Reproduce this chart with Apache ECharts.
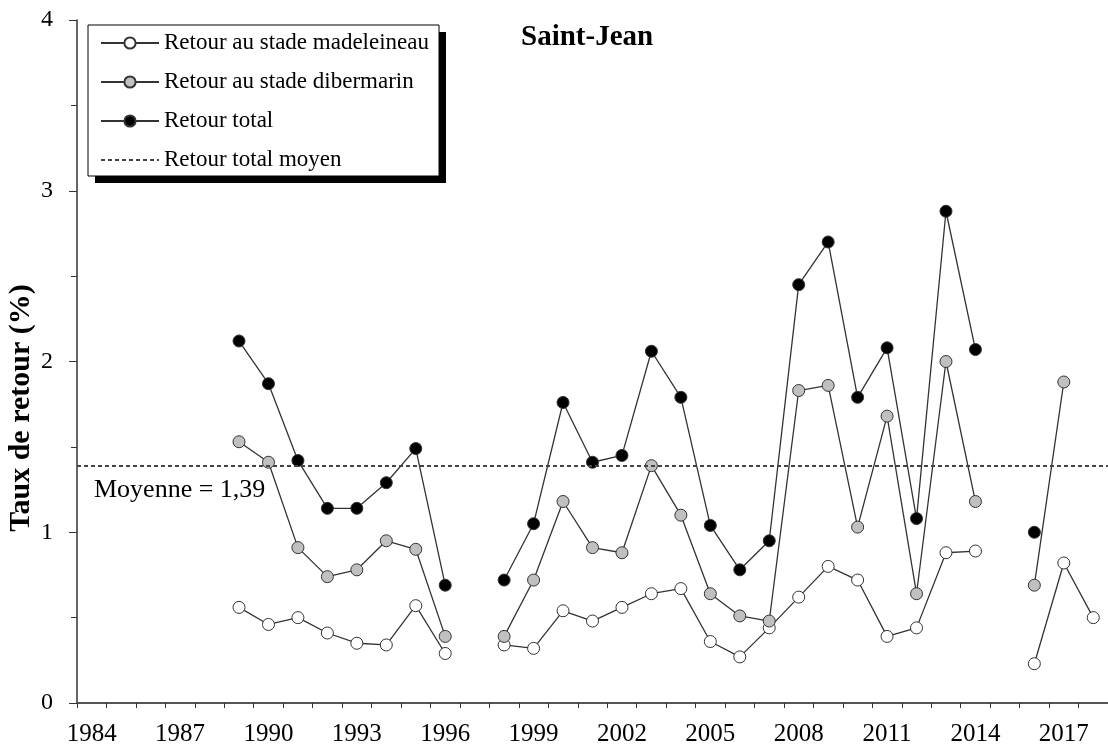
<!DOCTYPE html>
<html>
<head>
<meta charset="utf-8">
<script src="https://cdn.jsdelivr.net/npm/echarts@6/dist/echarts.min.js"></script>
<style>
  html, body { margin: 0; padding: 0; background: #fff; }
  #chart { width: 1108px; height: 751px; }
</style>
</head>
<body>
<div id="chart"></div>
<script>
// années (catégories de l'axe X)
const years = ['1984','1985','1986','1987','1988','1989','1990','1991','1992','1993',
  '1994','1995','1996','1997','1998','1999','2000','2001','2002','2003',
  '2004','2005','2006','2007','2008','2009','2010','2011','2012','2013',
  '2014','2015','2016','2017','2018']

// taux de retour (%) — null = pas de donnée
const madeleineau = [null, null, null, null, null, 0.56, 0.46, 0.50, 0.41, 0.35,
  0.34, 0.57, 0.29, null, 0.34, 0.32, 0.54, 0.48, 0.56, 0.64,
  0.67, 0.36, 0.27, 0.44, 0.62, 0.80, 0.72, 0.39, 0.44, 0.88,
  0.89, null, 0.23, 0.82, 0.50]
const dibermarin = [null, null, null, null, null, 1.53, 1.41, 0.91, 0.74, 0.78,
  0.95, 0.90, 0.39, null, 0.39, 0.72, 1.18, 0.91, 0.88, 1.39,
  1.10, 0.64, 0.51, 0.48, 1.83, 1.86, 1.03, 1.68, 0.64, 2.00,
  1.18, null, 0.69, 1.88, null]
const total = [null, null, null, null, null, 2.12, 1.87, 1.42, 1.14, 1.14,
  1.29, 1.49, 0.69, null, 0.72, 1.05, 1.76, 1.41, 1.45, 2.06,
  1.79, 1.04, 0.78, 0.95, 2.45, 2.70, 1.79, 2.08, 1.08, 2.88,
  2.07, null, 1.00, null, null]
const moyenne = 1.39

const FONT = '"Liberation Serif", "DejaVu Serif", serif'

const chart = echarts.init(document.getElementById('chart'), null, { renderer: 'canvas' })

function serie(name, data, fill) {
  return {
    name,
    type: 'line',
    data,
    connectNulls: false,
    symbol: 'circle',
    symbolSize: 12,
    lineStyle: { color: '#333', width: 1.3 },
    itemStyle: { color: fill, borderColor: '#333', borderWidth: 1 },
    emphasis: { disabled: true },
  }
}

chart.setOption({
  animation: false,
  backgroundColor: '#fff',
  textStyle: { fontFamily: FONT },
  grid: { left: 77, top: 20, width: 1036, height: 683 },
  legend: {
    orient: 'vertical',
    left: 88, top: 25, z: 5,
    padding: [6, 10, 4, 12],
    itemWidth: 58, itemHeight: 14, itemGap: 15,
    backgroundColor: '#fff',
    borderColor: '#000', borderWidth: 1,
    textStyle: { fontFamily: FONT, fontSize: 23, color: '#000', lineHeight: 24 },
    data: [
      'Retour au stade madeleineau',
      'Retour au stade dibermarin',
      'Retour total',
      { name: 'Retour total moyen', itemStyle: { color: 'rgba(0,0,0,0)', borderWidth: 0 } },
    ],
  },
  xAxis: {
    type: 'category',
    data: years,
    boundaryGap: true,
    axisLine: { lineStyle: { color: '#555', width: 2 } },
    axisTick: { show: true, interval: 0, length: 5, lineStyle: { color: '#333' } },
    axisLabel: { interval: 2, color: '#000', fontFamily: FONT, fontSize: 25, margin: 19 },
    splitLine: { show: false },
  },
  yAxis: {
    type: 'value',
    min: 0, max: 4, interval: 1,
    axisLine: { show: true, lineStyle: { color: '#333', width: 1.5 } },
    axisTick: { show: true, length: 8, lineStyle: { color: '#333' } },
    minorTick: { show: true, splitNumber: 2, length: 6, lineStyle: { color: '#333' } },
    axisLabel: { color: '#000', fontFamily: FONT, fontSize: 24, margin: 24 },
    splitLine: { show: false },
  },
  graphic: [
    // ombre portée de la légende
    {
      type: 'rect', z: 1,
      shape: { x: 95, y: 32, width: 351, height: 151 },
      style: { fill: '#000' },
    },
    {
      type: 'text',
      x: 21, y: 408,
      rotation: Math.PI / 2,
      style: {
        text: 'Taux de retour (%)',
        fontFamily: FONT, fontSize: 30, fontWeight: 'bold', fill: '#000',
        align: 'center', verticalAlign: 'middle',
      },
    },
    {
      type: 'text',
      left: 521, top: 23,
      style: { text: 'Saint-Jean', fontFamily: FONT, fontSize: 29, fontWeight: 'bold', fill: '#000' },
    },
  ],
  series: [
    serie('Retour au stade madeleineau', madeleineau, '#fff'),
    serie('Retour au stade dibermarin', dibermarin, '#c0c0c0'),
    serie('Retour total', total, '#000'),
    {
      name: 'Retour total moyen',
      type: 'line',
      data: [],
      symbol: 'none',
      lineStyle: { color: '#444', width: 2, type: [4, 3] },
      itemStyle: { color: '#444' },
      markLine: {
        silent: true,
        symbol: ['none', 'none'],
        lineStyle: { color: '#444', width: 2, type: [4, 3] },
        label: {
          show: true,
          position: 'insideStartBottom',
          formatter: 'Moyenne = ' + String(moyenne).replace('.', ','),
          fontFamily: FONT, fontSize: 26, color: '#000',
          distance: [17, 12],
        },
        data: [{ yAxis: moyenne }],
      },
    },
  ],
})
</script>
</body>
</html>
